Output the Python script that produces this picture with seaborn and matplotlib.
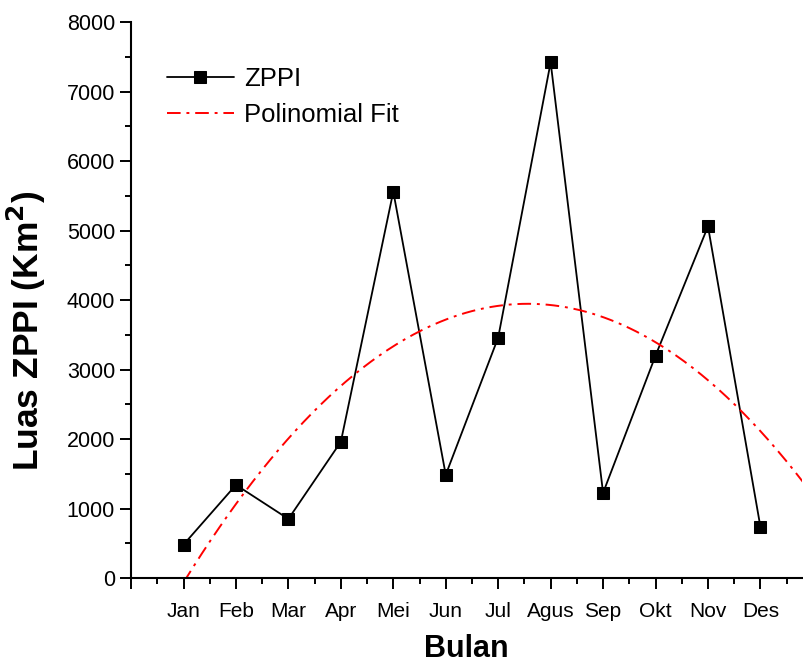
import numpy as np
import pandas as pd
import matplotlib
matplotlib.use("Agg")
import matplotlib.pyplot as plt
import seaborn as sns
from matplotlib.ticker import MultipleLocator

# ---- data ----
months = ["Jan", "Feb", "Mar", "Apr", "Mei", "Jun", "Jul", "Agus", "Sep", "Okt", "Nov", "Des"]
month_pos = [1, 2, 3, 4, 5, 6, 7, 8, 9, 10, 11, 12]
zppi = [480, 1340, 850, 1960, 5560, 1485, 3460, 7420, 1225, 3200, 5060, 735]
y_ticks = [0, 1000, 2000, 3000, 4000, 5000, 6000, 7000, 8000]

sns.set_style("ticks")
plt.rcParams["font.family"] = ["Liberation Sans", "DejaVu Sans"]
plt.rcParams["text.color"] = "black"
plt.rcParams["axes.labelcolor"] = "black"
plt.rcParams["xtick.color"] = "black"
plt.rcParams["ytick.color"] = "black"

fig = plt.figure(figsize=(8.04, 6.68), dpi=100)
ax = fig.add_axes([0.163, 0.1347, 0.835, 0.8323])

df = pd.DataFrame({"x": month_pos, "y": zppi})
# quadratic least-squares fit of the data
coef = np.polyfit(month_pos, zppi, 2)
xf = np.linspace(1, 13, 300)
fit_df = pd.DataFrame({"x": xf, "y": np.polyval(coef, xf)})

sns.lineplot(data=df, x="x", y="y", ax=ax, color="black", lw=1.3,
             marker="s", markersize=8, markeredgecolor="black",
             markerfacecolor="black", label="ZPPI")
sns.lineplot(data=fit_df, x="x", y="y", ax=ax, color="red", lw=1.4,
             label="Polinomial Fit")
ax.lines[1].set_dashes([7, 3, 1.5, 3])

ax.set_xlim(0, 12.8)
ax.set_ylim(0, 8000)
ax.set_xticks([0] + month_pos)
ax.set_xticklabels([""] + months)
ax.xaxis.set_minor_locator(MultipleLocator(0.5))
ax.set_yticks(y_ticks)
ax.yaxis.set_minor_locator(MultipleLocator(500))
ax.tick_params(axis="both", which="major", length=8, width=1.4, labelsize=15, colors="black")
ax.tick_params(axis="y", which="major", labelsize=15.5)
ax.tick_params(axis="both", which="minor", length=4, width=1.4)
ax.tick_params(axis="x", which="major", pad=9)

for s in ["top", "right"]:
    ax.spines[s].set_visible(False)
for s in ["left", "bottom"]:
    ax.spines[s].set_linewidth(1.5)
    ax.spines[s].set_color("black")

ax.set_xlabel("Bulan", fontsize=22, fontweight="bold", color="black")
ax.xaxis.set_label_coords(0.5, -0.100)
ax.set_ylabel("Luas ZPPI (Km$^\\mathbf{2}$)", fontsize=25.5, fontweight="bold", color="black")
ax.yaxis.set_label_coords(-0.123, 0.444)

leg = ax.legend(loc="upper left", bbox_to_anchor=(0.038, 0.937), frameon=False,
                fontsize=18.5, handlelength=2.6, handletextpad=0.4, labelspacing=0.45,
                borderaxespad=0)
for t in leg.get_texts():
    t.set_color("black")

fig.savefig("out.png", dpi=100)
